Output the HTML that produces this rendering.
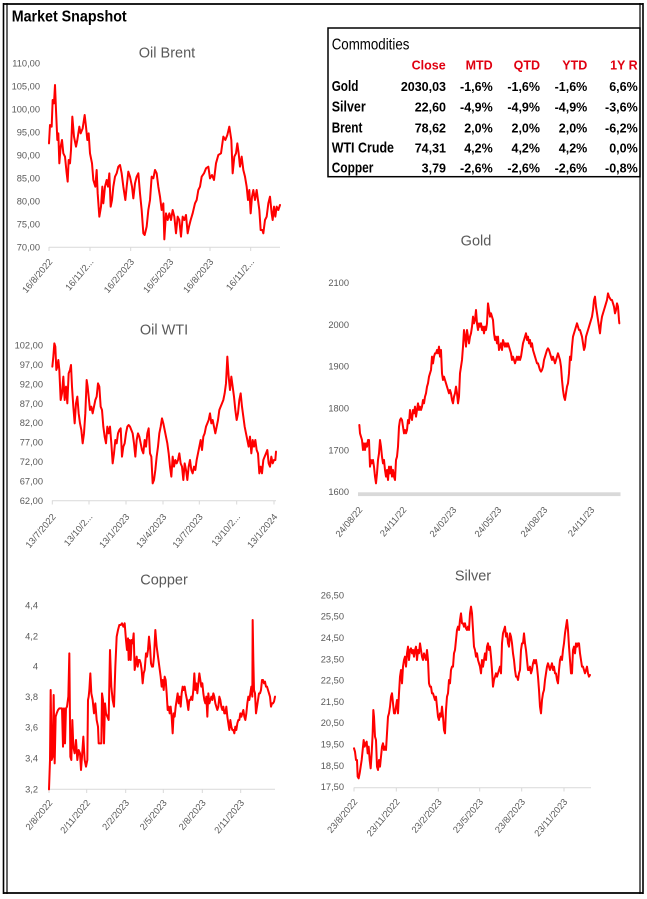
<!DOCTYPE html>
<html><head><meta charset="utf-8"><style>
html,body{margin:0;padding:0;background:#fff;}
svg{display:block;}
text{font-family:"Liberation Sans",sans-serif;}
.ax{fill:#595959;font-size:9.3px;}
.tt{fill:#595959;font-size:14.5px;text-anchor:middle;}
.tb{font-weight:bold;fill:#000;}
.hd{font-weight:bold;fill:#e00010;font-size:12.5px;text-anchor:end;}
.vl{font-weight:bold;fill:#000;font-size:12.5px;text-anchor:end;}
.ln{fill:none;stroke:#ff0000;stroke-width:6;stroke-linejoin:round;stroke-linecap:round;}
.grid{stroke:#d9d9d9;stroke-width:1;}
</style></head><body>
<svg width="647" height="899" viewBox="0 0 647 899" xmlns="http://www.w3.org/2000/svg">
<rect width="647" height="899" fill="#fff"/>
<!-- frame -->
<line x1="3" y1="4" x2="643.5" y2="4" stroke="#000" stroke-width="1.8"/>
<line x1="3" y1="893" x2="643.5" y2="893" stroke="#000" stroke-width="1.8"/>
<line x1="3.5" y1="3" x2="3.5" y2="894" stroke="#000" stroke-width="1.6"/>
<line x1="7" y1="3" x2="7" y2="894" stroke="#000" stroke-width="1.2"/>
<line x1="640" y1="3" x2="640" y2="894" stroke="#000" stroke-width="1.2"/>
<line x1="643" y1="3" x2="643" y2="894" stroke="#000" stroke-width="1.6"/>
<text x="11.7" y="21.7" class="tb" font-size="16" textLength="115" lengthAdjust="spacingAndGlyphs">Market Snapshot</text>

<!-- table -->
<rect x="328" y="28" width="312" height="148.7" fill="none" stroke="#000" stroke-width="1.5"/>
<text x="331.7" y="49.3" font-size="15.5" fill="#000" textLength="77.7" lengthAdjust="spacingAndGlyphs">Commodities</text>
<text x="445.7" y="69.3" class="hd">Close</text>
<text x="492.7" y="69.3" class="hd">MTD</text>
<text x="540" y="69.3" class="hd">QTD</text>
<text x="587.3" y="69.3" class="hd">YTD</text>
<text x="637.7" y="69.3" class="hd">1Y R</text>

<text x="331.7" y="91" class="tb" font-size="15" textLength="26.7" lengthAdjust="spacingAndGlyphs">Gold</text>
<text x="331.7" y="111.7" class="tb" font-size="15" textLength="34" lengthAdjust="spacingAndGlyphs">Silver</text>
<text x="331.7" y="132.3" class="tb" font-size="15" textLength="30.7" lengthAdjust="spacingAndGlyphs">Brent</text>
<text x="331.7" y="152.7" class="tb" font-size="15" textLength="62.3" lengthAdjust="spacingAndGlyphs">WTI Crude</text>
<text x="331.7" y="172.7" class="tb" font-size="15" textLength="41.7" lengthAdjust="spacingAndGlyphs">Copper</text>

<g class="vl">
<text x="446" y="91">2030,03</text><text x="492.7" y="91">-1,6%</text><text x="540" y="91">-1,6%</text><text x="587.3" y="91">-1,6%</text><text x="637.7" y="91">6,6%</text>
<text x="446" y="111.7">22,60</text><text x="492.7" y="111.7">-4,9%</text><text x="540" y="111.7">-4,9%</text><text x="587.3" y="111.7">-4,9%</text><text x="637.7" y="111.7">-3,6%</text>
<text x="446" y="132.3">78,62</text><text x="492.7" y="132.3">2,0%</text><text x="540" y="132.3">2,0%</text><text x="587.3" y="132.3">2,0%</text><text x="637.7" y="132.3">-6,2%</text>
<text x="446" y="152.7">74,31</text><text x="492.7" y="152.7">4,2%</text><text x="540" y="152.7">4,2%</text><text x="587.3" y="152.7">4,2%</text><text x="637.7" y="152.7">0,0%</text>
<text x="446" y="172.7">3,79</text><text x="492.7" y="172.7">-2,6%</text><text x="540" y="172.7">-2,6%</text><text x="587.3" y="172.7">-2,6%</text><text x="637.7" y="172.7">-0,8%</text>
</g>

<!-- ============ OIL BRENT ============ -->
<text x="167" y="57.5" class="tt">Oil Brent</text>
<g class="ax" text-anchor="end">
<text x="40" y="66.4">110,00</text><text x="40" y="89.4">105,00</text><text x="40" y="112.4">100,00</text>
<text x="40" y="135.4">95,00</text><text x="40" y="158.4">90,00</text><text x="40" y="181.4">85,00</text>
<text x="40" y="204.4">80,00</text><text x="40" y="227.4">75,00</text><text x="40" y="250.4">70,00</text>
</g>
<line x1="49" y1="247.3" x2="280" y2="247.3" class="grid"/>
<g class="grid"><line x1="49" y1="247" x2="49" y2="251"/><line x1="90" y1="247" x2="90" y2="251"/><line x1="130.7" y1="247" x2="130.7" y2="251"/><line x1="170" y1="247" x2="170" y2="251"/><line x1="210" y1="247" x2="210" y2="251"/><line x1="250.7" y1="247" x2="250.7" y2="251"/></g>
<g class="ax" text-anchor="end" font-size="9.8">
<text transform="translate(53,262) rotate(-50)">16/8/2022</text>
<text transform="translate(94,262) rotate(-50)">16/11/2...</text>
<text transform="translate(134.7,262) rotate(-50)">16/2/2023</text>
<text transform="translate(174,262) rotate(-50)">16/5/2023</text>
<text transform="translate(214,262) rotate(-50)">16/8/2023</text>
<text transform="translate(254.7,262) rotate(-50)">16/11/2...</text>
</g>
<g transform="scale(0.33333)">
<polyline class="ln" points="147,430 150,375 155,380 158,300 162,310 165,255 168,330 172,420 175,400 178,490 182,440 186,420 190,460 195,470 200,520 203,545 206,480 210,490 213,450 217,350 222,410 228,440 232,420 238,380 242,400 248,385 254,345 258,380 262,420 266,400 270,460 276,490 280,540 286,560 290,510 293,580 298,650 303,620 307,560 310,610 315,560 320,540 324,560 328,520 332,620 336,600 340,560 345,530 350,520 355,500 360,495 365,520 370,560 376,600 380,560 385,515 390,530 396,560 400,595 405,550 410,530 415,520 420,580 425,630 430,700 434,705 440,680 445,630 450,600 455,530 460,535 465,510 470,520 475,560 480,590 485,630 490,610 493,718 498,640 503,660 508,640 513,660 518,630 523,650 528,700 533,650 538,660 543,710 548,650 553,660 558,645 563,700 567,680 572,660 578,640 585,610 590,600 595,570 600,560 605,530 612,520 618,505 625,500 630,535 636,525 642,540 648,490 655,465 663,460 670,410 676,420 682,405 688,380 694,420 698,520 703,470 708,460 712,430 716,460 720,500 725,470 730,510 735,530 740,560 744,600 748,570 752,640 756,590 760,570 765,600 770,570 774,600 778,630 782,690 787,690 790,700 795,660 800,650 805,610 810,590 815,640 818,660 822,620 826,650 830,620 835,630 840,615"/>
</g>

<!-- ============ GOLD ============ -->
<text x="476" y="245.5" class="tt">Gold</text>
<g class="ax" text-anchor="end">
<text x="349" y="286.1">2100</text><text x="349" y="327.9">2000</text><text x="349" y="369.7">1900</text>
<text x="349" y="411.5">1800</text><text x="349" y="453.3">1700</text><text x="349" y="495.1">1600</text>
</g>
<rect x="358" y="492.3" width="262.5" height="3.8" fill="#d9d9d9"/>
<g class="ax" text-anchor="end" font-size="10.2">
<text transform="translate(363,510) rotate(-50)">24/08/22</text>
<text transform="translate(407,510) rotate(-50)">24/11/22</text>
<text transform="translate(457,510) rotate(-50)">24/02/23</text>
<text transform="translate(502,510) rotate(-50)">24/05/23</text>
<text transform="translate(548,510) rotate(-50)">24/08/23</text>
<text transform="translate(595,510) rotate(-50)">24/11/23</text>
</g>
<g transform="translate(300,220) scale(0.33333)">
<polyline class="ln" points="178,615 180,640 183,650 186,660 189,690 192,670 195,690 198,670 201,680 204,660 207,660 210,740 213,720 216,730 219,720 222,740 225,770 228,790 231,760 234,720 237,700 240,660 243,680 246,710 249,730 252,720 255,750 258,770 261,750 264,780 267,740 270,760 273,740 276,770 279,750 282,770 285,780 288,720 291,710 294,680 297,620 300,600 303,595 306,600 309,620 312,640 315,630 318,640 321,630 324,600 327,610 330,570 333,590 336,600 339,570 342,580 345,560 348,590 351,570 354,550 357,570 360,560 363,570 366,560 369,540 372,550 375,530 378,520 381,500 384,490 387,470 390,460 393,450 396,410 399,430 402,410 405,400 408,400 411,390 414,400 417,380 420,410 423,390 426,460 429,480 432,470 435,480 438,490 441,500 444,510 447,520 450,510 453,520 456,540 459,550 462,530 465,520 468,500 471,520 474,550 477,530 480,460 483,440 486,420 489,380 492,330 495,350 498,380 501,330 504,350 507,370 510,350 513,340 516,320 519,290 522,310 525,300 528,270 531,310 534,330 537,310 540,320 543,310 546,330 549,320 552,340 555,320 558,330 561,310 564,250 567,270 570,290 573,280 576,290 579,300 582,340 585,360 588,350 591,370 594,350 597,390 600,380 603,370 606,390 609,360 612,370 615,380 618,370 621,380 624,370 627,380 630,390 633,400 636,420 639,410 642,420 645,430 648,420 651,410 654,420 657,410 660,420 663,410 666,390 669,370 672,360 675,350 678,340 681,360 684,350 687,370 690,360 693,380 696,370 699,390 702,400 705,410 708,420 711,430 714,430 717,440 720,450 723,455 726,450 729,440 732,420 735,410 738,400 741,390 744,385 747,390 750,400 753,410 756,420 759,410 762,420 765,430 768,420 771,410 774,400 777,410 780,420 783,440 786,480 789,510 792,530 795,540 798,520 801,500 804,490 807,460 810,410 813,420 816,380 819,350 822,340 825,330 828,320 831,310 834,320 837,330 840,330 843,340 846,350 849,370 852,390 855,380 858,350 861,340 864,330 867,320 870,310 873,300 876,290 879,270 882,240 885,230 888,260 891,280 894,300 897,320 900,340 903,310 906,290 909,280 912,270 915,260 918,250 921,240 924,220 927,230 930,235 933,240 936,240 939,250 942,260 945,280 948,270 951,250 954,260 957,300 958,310"/>
</g>

<!-- ============ OIL WTI ============ -->
<text x="164" y="334.5" class="tt">Oil WTI</text>
<g class="ax" text-anchor="end">
<text x="43" y="348.4">102,00</text><text x="43" y="367.9">97,00</text><text x="43" y="387.3">92,00</text>
<text x="43" y="406.8">87,00</text><text x="43" y="426.2">82,00</text><text x="43" y="445.7">77,00</text>
<text x="43" y="465.2">72,00</text><text x="43" y="484.6">67,00</text><text x="43" y="504.1">62,00</text>
</g>
<line x1="52" y1="500.8" x2="276" y2="500.8" class="grid"/>
<g class="grid"><line x1="52.3" y1="500.5" x2="52.3" y2="504.5"/><line x1="89" y1="500.5" x2="89" y2="504.5"/><line x1="126" y1="500.5" x2="126" y2="504.5"/><line x1="163" y1="500.5" x2="163" y2="504.5"/><line x1="199.3" y1="500.5" x2="199.3" y2="504.5"/><line x1="236.7" y1="500.5" x2="236.7" y2="504.5"/><line x1="274" y1="500.5" x2="274" y2="504.5"/></g>
<g class="ax" text-anchor="end" font-size="9.8">
<text transform="translate(56.3,517) rotate(-50)">13/7/2022</text>
<text transform="translate(93,517) rotate(-50)">13/10/2...</text>
<text transform="translate(130,517) rotate(-50)">13/1/2023</text>
<text transform="translate(167,517) rotate(-50)">13/4/2023</text>
<text transform="translate(203.3,517) rotate(-50)">13/7/2023</text>
<text transform="translate(240.7,517) rotate(-50)">13/10/2...</text>
<text transform="translate(278,517) rotate(-50)">13/1/2024</text>
</g>
<g transform="translate(0,300) scale(0.33333)">
<polyline class="ln" points="157,200 160,170 163,130 166,140 169,210 172,200 175,180 178,210 182,300 186,280 190,230 194,300 198,260 202,310 206,220 210,210 213,195 216,260 220,320 224,370 228,310 232,290 236,340 240,370 244,390 248,430 252,400 256,340 260,240 263,260 266,290 270,330 274,320 278,340 282,320 286,300 290,290 294,250 298,260 302,320 306,330 310,380 314,410 318,430 322,380 326,400 330,380 334,430 338,490 342,460 346,420 350,430 354,400 358,390 362,385 366,470 370,440 374,430 378,400 382,380 386,375 390,380 394,390 398,400 402,430 406,470 410,420 414,400 418,410 422,430 426,450 430,460 434,420 438,440 442,400 446,385 450,460 454,470 458,550 462,540 466,510 470,470 474,440 478,400 482,380 486,355 490,370 494,390 498,410 502,430 506,460 510,500 514,530 518,470 522,500 526,480 530,490 534,480 538,460 542,490 546,500 550,540 554,490 558,510 562,540 566,500 570,480 574,510 578,520 582,500 586,510 590,480 594,460 598,440 602,420 606,450 610,410 614,400 618,380 622,370 626,360 630,340 634,370 638,360 642,380 646,400 650,380 654,360 658,330 662,320 666,310 670,300 674,280 678,250 682,170 686,230 690,270 694,230 698,260 702,290 706,330 710,360 714,340 718,300 722,280 726,320 730,350 734,380 738,400 742,420 746,440 750,410 754,460 758,420 762,440 766,420 770,450 774,460 778,520 782,500 786,520 790,480 794,470 798,460 802,450 806,490 810,500 814,470 818,490 822,480 826,480 828,455"/>
</g>

<!-- ============ COPPER ============ -->
<text x="164" y="584.5" class="tt">Copper</text>
<g class="ax" text-anchor="end">
<text x="38" y="608.4">4,4</text><text x="38" y="639.4">4,2</text><text x="38" y="669.4">4</text>
<text x="38" y="700.1">3,8</text><text x="38" y="730.4">3,6</text><text x="38" y="761.4">3,4</text><text x="38" y="792.4">3,2</text>
</g>
<line x1="49" y1="789.3" x2="275" y2="789.3" class="grid"/>
<g class="grid"><line x1="49" y1="789" x2="49" y2="793"/><line x1="86.7" y1="789" x2="86.7" y2="793"/><line x1="125.7" y1="789" x2="125.7" y2="793"/><line x1="163.3" y1="789" x2="163.3" y2="793"/><line x1="202.3" y1="789" x2="202.3" y2="793"/><line x1="240.7" y1="789" x2="240.7" y2="793"/></g>
<g class="ax" text-anchor="end" font-size="9.8">
<text transform="translate(53,803) rotate(-50)">2/8/2022</text>
<text transform="translate(90.7,803) rotate(-50)">2/11/2022</text>
<text transform="translate(129.7,803) rotate(-50)">2/2/2023</text>
<text transform="translate(167.3,803) rotate(-50)">2/5/2023</text>
<text transform="translate(206.3,803) rotate(-50)">2/8/2023</text>
<text transform="translate(244.7,803) rotate(-50)">2/11/2023</text>
</g>
<g transform="translate(0,560) scale(0.33333)">
<polyline class="ln" points="147,688 150,600 152,390 155,600 158,590 161,405 164,610 167,470 170,460 174,450 178,445 182,445 186,445 189,560 192,445 195,550 198,445 201,440 205,410 208,280 211,590 214,600 217,480 220,560 224,580 228,540 232,600 236,570 240,580 243,630 246,590 250,530 254,600 258,620 262,600 264,420 266,410 268,390 271,340 274,400 278,420 282,460 286,430 290,480 294,500 296,550 300,550 304,550 306,400 309,420 312,550 315,430 318,460 322,470 326,480 330,270 334,380 338,420 342,440 346,320 350,230 354,210 358,195 362,195 366,190 370,200 374,190 378,240 381,270 384,235 386,300 389,240 392,300 395,240 398,250 401,220 404,330 407,310 410,290 413,320 416,300 419,300 422,310 425,330 428,370 431,340 434,330 438,280 441,290 444,270 447,230 450,260 453,310 456,320 459,320 462,290 466,210 470,260 474,290 478,320 482,350 485,380 488,360 491,390 494,350 497,360 500,400 503,450 506,440 509,460 512,440 515,470 518,520 521,460 524,470 527,440 530,420 533,400 536,430 539,410 542,440 545,400 548,380 551,390 554,380 557,400 561,420 565,450 568,420 571,420 574,410 577,420 580,390 583,340 586,390 589,370 592,400 595,370 598,340 601,360 604,380 607,370 610,400 613,420 616,430 619,410 622,470 625,400 628,430 631,420 634,410 637,420 640,400 643,410 646,430 649,440 652,450 655,440 658,410 661,420 664,440 667,450 670,440 673,460 676,460 679,440 682,470 685,490 688,510 691,480 694,500 697,510 700,510 703,520 706,500 709,510 712,490 715,480 718,480 721,460 724,470 727,460 730,450 733,470 736,480 739,460 742,430 745,410 748,420 751,400 754,380 757,410 758,180 760,300 762,390 765,400 768,460 771,440 774,420 777,400 780,400 783,390 786,360 789,360 792,370 795,365 798,380 801,380 804,390 807,400 810,410 813,440 816,430 819,430 822,425 825,410"/>
</g>

<!-- ============ SILVER ============ -->
<text x="473" y="580.5" class="tt">Silver</text>
<g class="ax" text-anchor="end">
<text x="344" y="598.4">26,50</text><text x="344" y="619.7">25,50</text><text x="344" y="641">24,50</text>
<text x="344" y="662.3">23,50</text><text x="344" y="683.6">22,50</text><text x="344" y="704.9">21,50</text>
<text x="344" y="726.2">20,50</text><text x="344" y="747.5">19,50</text><text x="344" y="768.8">18,50</text><text x="344" y="790.1">17,50</text>
</g>
<line x1="354" y1="787.7" x2="591" y2="787.7" class="grid"/>
<g class="grid"><line x1="354" y1="787.5" x2="354" y2="791.5"/><line x1="396.3" y1="787.5" x2="396.3" y2="791.5"/><line x1="438.3" y1="787.5" x2="438.3" y2="791.5"/><line x1="479.7" y1="787.5" x2="479.7" y2="791.5"/><line x1="521.7" y1="787.5" x2="521.7" y2="791.5"/><line x1="564" y1="787.5" x2="564" y2="791.5"/></g>
<g class="ax" text-anchor="end" font-size="9.8">
<text transform="translate(358,802) rotate(-50)">23/8/2022</text>
<text transform="translate(400.3,802) rotate(-50)">23/11/2022</text>
<text transform="translate(442.3,802) rotate(-50)">23/2/2023</text>
<text transform="translate(483.7,802) rotate(-50)">23/5/2023</text>
<text transform="translate(525.7,802) rotate(-50)">23/8/2023</text>
<text transform="translate(568,802) rotate(-50)">23/11/2023</text>
</g>
<g transform="translate(310,560) scale(0.33333)">
<polyline class="ln" points="132,565 135,575 138,600 141,600 143,650 146,655 149,640 152,620 155,600 158,570 161,540 164,560 167,550 170,545 173,580 176,560 179,600 182,625 185,580 188,520 190,450 192,470 195,530 198,540 201,620 204,630 207,600 210,620 213,590 216,560 219,550 222,570 225,560 228,570 231,520 234,470 237,460 240,440 243,410 246,400 249,430 252,460 255,460 258,440 261,420 264,460 267,400 270,350 273,330 276,370 279,320 282,300 285,290 288,320 291,280 294,260 297,300 300,270 303,265 306,280 309,270 312,290 315,270 318,260 321,300 324,270 327,280 330,250 333,270 336,290 339,300 342,280 345,290 348,300 351,270 354,300 357,370 360,380 363,380 366,400 369,400 372,410 375,420 378,410 381,440 384,470 387,480 390,460 393,470 396,440 399,470 402,510 405,520 408,450 411,410 414,400 417,360 420,370 423,330 426,320 429,320 432,280 435,270 438,240 441,210 444,200 447,210 450,180 453,160 456,190 459,190 462,200 465,190 468,205 471,210 474,200 477,210 480,160 483,140 486,160 489,210 492,260 495,270 498,290 501,280 504,300 507,310 510,320 513,340 516,300 519,320 522,300 525,280 528,300 531,260 534,250 537,270 540,260 543,290 546,330 549,380 552,360 555,350 558,340 561,350 564,340 567,330 570,320 573,340 576,250 579,220 582,210 585,200 588,230 591,220 594,250 597,260 600,220 603,230 606,250 609,280 612,300 615,330 618,350 621,350 624,360 627,340 630,330 633,270 636,250 639,250 642,220 645,250 648,270 651,300 654,330 657,330 660,320 663,340 666,330 669,310 672,300 675,310 678,300 681,320 684,350 687,390 690,440 693,460 696,420 699,400 702,390 705,360 708,340 711,320 714,310 717,320 720,330 723,320 726,310 729,330 732,320 735,340 738,340 741,360 744,370 747,330 750,300 753,290 756,300 759,270 762,250 765,220 768,200 771,180 774,210 777,260 780,300 783,340 786,340 789,270 792,260 795,280 798,250 801,260 804,250 807,250 810,280 813,300 816,320 819,320 822,330 825,340 828,330 831,320 834,340 837,350 840,345"/>
</g>
</svg>
</body></html>
